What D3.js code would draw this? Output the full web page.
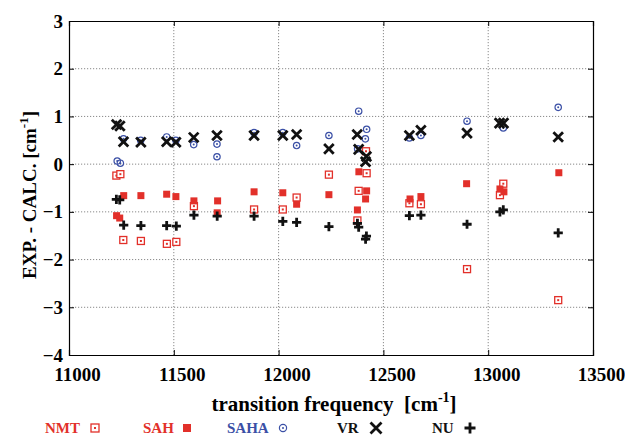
<!DOCTYPE html>
<html><head><meta charset="utf-8">
<script src="https://cdn.jsdelivr.net/npm/d3@7"></script>
<style>body{margin:0;background:#fff}svg{display:block}</style>
</head><body>
<script>
// ---- data ----
const xTicks = [11000, 11500, 12000, 12500, 13000, 13500];
const yTicks = [3, 2, 1, 0, -1, -2, -3, -4];

const nmtX = [11226, 11245, 11259, 11343, 11467, 11512, 11596, 11883, 12020, 12086, 12240, 12420, 12382, 12417, 12376, 12624, 12679, 12899, 13072, 13056, 13334];
const nmtY = [-0.24, -0.21, -1.59, -1.61, -1.67, -1.63, -0.88, -0.95, -0.95, -0.70, -0.22, -0.19, -0.56, 0.27, -1.18, -0.82, -0.84, -2.20, -0.41, -0.65, -2.85];

const sahX = [11227, 11242, 11261, 11343, 11466, 11510, 11596, 11709, 11707, 11883, 12020, 12086, 12240, 12383, 12420, 12415, 12376, 12627, 12679, 12897, 13056, 13075, 13337];
const sahY = [-1.08, -1.13, -0.66, -0.66, -0.63, -0.68, -0.77, -0.77, -1.02, -0.58, -0.60, -0.84, -0.64, -0.16, -0.56, -0.73, -0.96, -0.73, -0.68, -0.41, -0.52, -0.58, -0.18];

const sahaX = [11230, 11245, 11260, 11342, 11466, 11510, 11595, 11706, 11706, 11883, 12020, 12086, 12240, 12382, 12420, 12414, 12377, 12624, 12679, 12899, 13072, 13334];
const sahaY = [0.065, 0.02, 0.53, 0.50, 0.57, 0.50, 0.41, 0.42, 0.155, 0.66, 0.66, 0.39, 0.60, 1.11, 0.73, 0.53, 0.32, 0.55, 0.60, 0.90, 0.76, 1.19];

const vrX = [11227, 11243, 11260, 11343, 11466, 11510, 11595, 11706, 11883, 12020, 12086, 12240, 12375, 12382, 12419, 12415, 12624, 12679, 12899, 13054, 13073, 13334];
const vrY = [0.83, 0.80, 0.47, 0.46, 0.47, 0.46, 0.56, 0.60, 0.60, 0.60, 0.62, 0.32, 0.62, 0.31, 0.16, 0.05, 0.60, 0.71, 0.65, 0.86, 0.86, 0.57];

const nuX = [11226, 11242, 11261, 11343, 11466, 11512, 11596, 11707, 11883, 12020, 12086, 12240, 12376, 12382, 12419, 12415, 12624, 12679, 12899, 13056, 13072, 13334];
const nuY = [-0.74, -0.75, -1.28, -1.29, -1.29, -1.30, -1.07, -1.09, -1.09, -1.20, -1.22, -1.31, -1.24, -1.32, -1.51, -1.57, -1.08, -1.07, -1.26, -1.00, -0.96, -1.44];

const legendNames = ["NMT", "SAH", "SAHA", "VR", "NU"];

// ---- chart ----
const W = 625, H = 435;
const RED = "#e2302a", BLUE = "#3b50a6", BLACK = "#111";
const FONT = "'Liberation Serif','Times New Roman',serif";

const svg = d3.select("body").append("svg").attr("width", W).attr("height", H)
  .style("font-family", FONT);

const x = d3.scaleLinear().domain([11000, 13500]).range([69, 593]);
const y = d3.scaleLinear().domain([-4, 3]).range([355, 21]);

// grid
const grid = svg.append("g");
grid.selectAll(".gx").data(xTicks.slice(1, -1)).join("line")
  .attr("x1", d => x(d)).attr("x2", d => x(d)).attr("y1", y(3)).attr("y2", y(-4))
  .attr("stroke", "#8a8a8a").attr("stroke-width", 1).attr("stroke-dasharray", "1.2,1.8");
grid.selectAll(".gy").data(yTicks.slice(1, -1)).join("line")
  .attr("y1", d => y(d)).attr("y2", d => y(d)).attr("x1", x(11000)).attr("x2", x(13500))
  .attr("stroke", "#8a8a8a").attr("stroke-width", 1).attr("stroke-dasharray", "1.2,1.8");

// axes with inward ticks
const axB = svg.append("g").attr("transform", `translate(0,${y(-4)})`)
  .call(d3.axisBottom(x).tickValues(xTicks).tickSize(-5).tickPadding(10).tickFormat(d3.format("d")));
const axT = svg.append("g").attr("transform", `translate(0,${y(3)})`)
  .call(d3.axisTop(x).tickValues(xTicks).tickSize(-5).tickFormat(""));
const axL = svg.append("g").attr("transform", `translate(${x(11000)},0)`)
  .call(d3.axisLeft(y).tickValues(yTicks).tickSize(-5).tickPadding(10).tickFormat(d3.format("d")));
const axR = svg.append("g").attr("transform", `translate(${x(13500)},0)`)
  .call(d3.axisRight(y).tickValues(yTicks).tickSize(-5).tickFormat(""));
[axB, axT, axL, axR].forEach(a => {
  a.select(".domain").attr("stroke", "#000").attr("stroke-width", 1.2);
  a.selectAll(".tick line").attr("stroke", "#000");
});
axB.selectAll("text").attr("font-family", FONT).attr("font-size", 19).attr("font-weight", "bold")
  .attr("fill", "#000").attr("dx", 8).attr("dy", "0.85em");
axL.selectAll("text").attr("font-family", FONT).attr("font-size", 19).attr("font-weight", "bold")
  .attr("fill", "#000").attr("dx", 4);

// axis titles
const yt = svg.append("text").attr("transform", `translate(36,${195}) rotate(-90)`)
  .attr("text-anchor", "middle").attr("font-size", 19).attr("font-weight", "bold");
yt.append("tspan").text("EXP. - CALC. [cm");
yt.append("tspan").text("-1").attr("font-size", 13).attr("dy", -8);
yt.append("tspan").text("]").attr("dy", 8);

const xt = svg.append("text").attr("x", 334).attr("y", 411)
  .attr("text-anchor", "middle").attr("font-size", 21).attr("font-weight", "bold");
xt.append("tspan").text("transition frequency \u00a0[cm");
xt.append("tspan").text("-1").attr("font-size", 14).attr("dy", -9);
xt.append("tspan").text("]").attr("dy", 9);

// marker painters
function nmt(g, s) {
  s = s || 7;
  g.append("rect").attr("x", -s/2).attr("y", -s/2).attr("width", s).attr("height", s)
    .attr("fill", "#fff").attr("stroke", RED).attr("stroke-width", 1.3);
  g.append("rect").attr("x", -1).attr("y", -1).attr("width", 2).attr("height", 2).attr("fill", RED);
}
function sah(g, s) {
  s = s || 7;
  g.append("rect").attr("x", -s/2).attr("y", -s/2).attr("width", s).attr("height", s).attr("fill", RED);
}
function saha(g, r) {
  r = r || 3.2;
  g.append("circle").attr("r", r).attr("fill", "none").attr("stroke", BLUE).attr("stroke-width", 1.2);
  g.append("circle").attr("r", 1).attr("fill", BLUE);
}
function vr(g, s) {
  s = s || 4.8;
  g.append("path").attr("d", `M${-s},${-s}L${s},${s}M${-s},${s}L${s},${-s}`)
    .attr("stroke", BLACK).attr("stroke-width", 2.8).attr("fill", "none");
}
function nu(g, s) {
  s = s || 4.6;
  g.append("path").attr("d", `M${-s},0L${s},0M0,${-s}L0,${s}`)
    .attr("stroke", BLACK).attr("stroke-width", 2.8).attr("fill", "none");
}

function plotSeries(xs, ys, painter) {
  const g = svg.append("g");
  xs.forEach((xv, i) => {
    const m = g.append("g").attr("transform", `translate(${x(xv)},${y(ys[i])})`);
    painter(m);
  });
}
plotSeries(nmtX, nmtY, nmt);
plotSeries(sahX, sahY, sah);
plotSeries(sahaX, sahaY, saha);
plotSeries(vrX, vrY, vr);
plotSeries(nuX, nuY, nu);

// legend
const legColors = [RED, RED, BLUE, BLACK, BLACK];
const legTextX = [45, 143, 227, 337, 432];
const legSymX = [95, 187, 283, 376, 470];
const legPainters = [g => nmt(g, 8), g => sah(g, 8), g => saha(g, 3.6), g => vr(g, 5.5), g => nu(g, 5.5)];
const lg = svg.append("g");
legendNames.forEach((n, i) => {
  lg.append("text").attr("x", legTextX[i]).attr("y", 433).text(n)
    .attr("font-size", 15).attr("font-weight", "bold").attr("fill", legColors[i]);
  const m = lg.append("g").attr("transform", `translate(${legSymX[i]},428)`);
  legPainters[i](m);
});
</script>
</body></html>
